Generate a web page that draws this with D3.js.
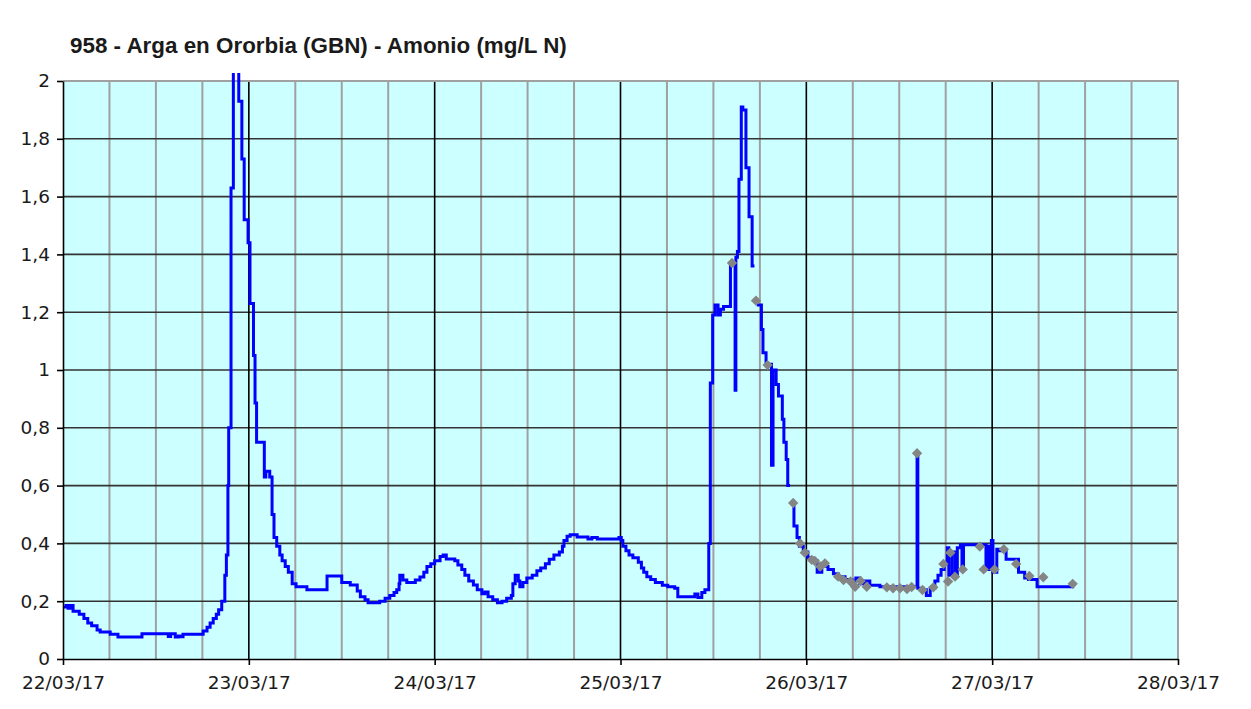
<!DOCTYPE html>
<html>
<head>
<meta charset="utf-8">
<script src="https://cdn.jsdelivr.net/npm/d3@7"></script>
<style>
  body { margin: 0; background: #fff; }
  svg { display: block; }
</style>
</head>
<body>
<div id="chart"></div>
<script>
// Amonio, hours counted from 22/03/17 00:00
var blueHours = [0, 0.4, 0.65, 1.0, 1.3, 2.1, 2.7, 3.2, 3.7, 4.4, 4.8, 6.1, 7.1, 10.2, 13.6, 13.9, 14.5, 14.9, 15.2, 15.5,
  18.1, 18.6, 19.0, 19.4, 19.8, 20.1, 20.5, 20.9, 21.1, 21.3, 21.4, 21.7, 22.0, 22.7, 23.1, 23.4, 23.9, 24.15, 24.6, 24.8,
  25.0, 26.0, 26.2, 26.7, 27.0, 27.25, 27.6, 28.0, 28.3, 28.7, 29.1, 29.6, 30.1, 31.5, 34.1, 36.0, 37.1, 38.0, 38.4, 39.0,
  39.4, 40.9, 41.6, 42.2, 42.75, 43.1, 43.4, 43.5, 43.9, 44.4, 45.5, 46.1, 46.6, 47.0, 47.5, 48.0, 48.7, 49.1, 49.5, 50.6,
  51.0, 51.5, 51.9, 52.4, 53.0, 53.5, 54.1, 54.5, 54.9, 55.5, 56.1, 56.7, 57.3, 57.9, 58.1, 58.4, 58.8, 59.0, 59.4, 59.9,
  60.6, 61.2, 61.7, 62.3, 62.8, 63.4, 64.1, 64.5, 64.7, 65.1, 65.5, 66.4, 67.8, 68.3, 69.0, 71.8, 72.1, 72.3, 72.7, 73.1,
  73.6, 74.3, 74.7, 75.0, 75.4, 75.9, 76.5, 77.4, 78.1, 79.0, 79.4, 81.6, 82.0, 82.5, 82.9, 83.4, 83.6, 83.9, 84.2, 84.6,
  84.9, 85.3, 86.2, 86.8, 86.9, 87.1, 87.3, 87.6, 87.8, 88.2, 88.6, 89.0, 89.3, 89.4, 89.6, 90.2, 90.4, 90.8, 91.5, 91.7,
  92.1, 92.4, 92.9, 93.1, 93.4, 93.6, 93.9, 94.0, 94.3, 94.4, 94.8, 95.1, 95.6, 96.2, 96.7, 97.4, 98.0, 98.8, 99.5, 100.1,
  101.0, 101.9, 102.4, 102.9, 103.6, 104.2, 105.5, 110.0, 110.3, 110.4, 111.1, 111.5, 112.0, 112.6, 113.0, 113.4, 113.8, 114.2,
  114.4, 114.8, 115.2, 115.5, 115.9, 116.1, 116.3, 118.2, 119.2, 119.5, 119.7, 119.9, 120.1, 120.6, 120.9, 121.8, 123.4, 124.2,
  124.7, 125.8, 130.4];
var blueValues = [0.18, 0.185, 0.176, 0.185, 0.165, 0.155, 0.14, 0.125, 0.115, 0.10, 0.093, 0.086, 0.076, 0.087, 0.078, 0.087, 0.076, 0.08, 0.077, 0.086,
  0.097, 0.11, 0.125, 0.14, 0.155, 0.17, 0.2, 0.29, 0.36, 0.6, 0.8, 1.63, 2.3, 1.93, 1.73, 1.52, 1.44, 1.23, 1.05, 0.886,
  0.75, 0.63, 0.65, 0.63, 0.5, 0.42, 0.39, 0.36, 0.34, 0.32, 0.30, 0.26, 0.25, 0.24, 0.287, 0.265, 0.256, 0.235, 0.215, 0.205,
  0.195, 0.2, 0.21, 0.22, 0.23, 0.24, 0.26, 0.29, 0.273, 0.265, 0.273, 0.284, 0.30, 0.32, 0.33, 0.34, 0.355, 0.36, 0.346, 0.34,
  0.325, 0.31, 0.29, 0.27, 0.256, 0.24, 0.226, 0.232, 0.215, 0.205, 0.195, 0.2, 0.21, 0.22, 0.26, 0.29, 0.27, 0.25, 0.265, 0.28,
  0.29, 0.305, 0.315, 0.33, 0.345, 0.36, 0.37, 0.39, 0.41, 0.425, 0.43, 0.422, 0.415, 0.42, 0.415, 0.42, 0.41, 0.39, 0.375, 0.36,
  0.35, 0.335, 0.315, 0.30, 0.285, 0.275, 0.265, 0.255, 0.25, 0.245, 0.215, 0.225, 0.213, 0.23, 0.24, 0.40, 0.955, 1.19, 1.225, 1.19,
  1.21, 1.22, 1.37, 0.93, 1.39, 1.41, 1.66, 1.91, 1.9, 1.70, 1.53, 1.36, 1.36, null, 1.225, 1.14, 1.06, 1.02, 0.67, 1.0,
  0.95, 0.91, 0.83, 0.75, 0.69, 0.6, 0.6, null, 0.54, 0.46, 0.42, 0.39, 0.37, 0.35, 0.34, 0.30, 0.32, 0.31, 0.295, 0.285,
  0.275, 0.27, 0.28, 0.26, 0.27, 0.255, 0.25, 0.25, 0.71, 0.245, 0.24, 0.22, 0.245, 0.27, 0.29, 0.31, 0.33, 0.385,
  0.29, 0.37, 0.29, 0.385, 0.395, 0.32, 0.395, 0.395, 0.31, 0.39, 0.31, 0.41, 0.30, 0.38, 0.375, 0.345, 0.30, 0.28,
  0.275, 0.25, 0.255];

// grey diamond points
var greyHours = [86.4, 89.5, 91.0, 94.3, 95.2, 95.8, 96.7, 97.1, 97.8, 98.4, 100.1, 100.8, 101.7, 102.3, 103.0, 103.8, 106.4, 107.2, 108.1, 109.0,
  109.6, 110.3, 111.0, 112.4, 113.7, 114.3, 114.6, 115.2, 116.2, 118.4, 118.9, 120.3, 121.5, 123.1, 124.8, 126.6, 130.4];
var greyValues = [1.37, 1.24, 1.017, 0.54, 0.40, 0.368, 0.343, 0.339, 0.32, 0.331, 0.285, 0.273, 0.268, 0.25, 0.27, 0.25, 0.248, 0.245, 0.245, 0.242,
  0.249, 0.712, 0.239, 0.248, 0.329, 0.268, 0.368, 0.285, 0.31, 0.389, 0.31, 0.31, 0.38, 0.329, 0.287, 0.283, 0.26];

var dayLabels = ["22/03/17", "23/03/17", "24/03/17", "25/03/17", "26/03/17", "27/03/17", "28/03/17"];
var yTicks = [0, 0.2, 0.4, 0.6, 0.8, 1, 1.2, 1.4, 1.6, 1.8, 2];
var yLabels = ["0", "0,2", "0,4", "0,6", "0,8", "1", "1,2", "1,4", "1,6", "1,8", "2"];

var W = 1251, H = 709;
var margin = {top: 81, right: 73, bottom: 50, left: 63},
    width = W - margin.left - margin.right,
    height = H - margin.top - margin.bottom;

var svg = d3.select("#chart").append("svg")
    .attr("width", W)
    .attr("height", H);

var g = svg.append("g")
    .attr("transform", "translate(" + margin.left + "," + margin.top + ")");

var x = d3.scaleLinear().domain([0, 144]).range([0, width]);
var y = d3.scaleLinear().domain([0, 2]).range([height, 0]);

// plot background
g.append("rect")
    .attr("width", width).attr("height", height)
    .attr("fill", "#ccffff");

// minor vertical grid every 6 h
var minorHours = d3.range(6, 144, 6).filter(function(h) { return h % 24 != 0; });
g.selectAll(".vminor").data(minorHours).enter().append("line")
    .attr("x1", function(d) { return x(d); }).attr("x2", function(d) { return x(d); })
    .attr("y1", 0).attr("y2", height)
    .attr("stroke", "#a0a0a0").attr("stroke-width", 2);

// horizontal grid
g.selectAll(".hgrid").data(yTicks.slice(1, -1)).enter().append("line")
    .attr("x1", 0).attr("x2", width)
    .attr("y1", function(d) { return y(d); }).attr("y2", function(d) { return y(d); })
    .attr("stroke", "#333").attr("stroke-width", 1.6);

// day lines
g.selectAll(".vday").data(d3.range(24, 144, 24)).enter().append("line")
    .attr("x1", function(d) { return x(d); }).attr("x2", function(d) { return x(d); })
    .attr("y1", 0).attr("y2", height)
    .attr("stroke", "#000").attr("stroke-width", 1.6);

// top and right border
g.append("path")
    .attr("d", "M0," + y(2) + "H" + width + "V" + height)
    .attr("fill", "none").attr("stroke", "#a0a0a0").attr("stroke-width", 2);

// clip so the first peak just pokes above the plot
svg.append("clipPath").attr("id", "clip")
  .append("rect").attr("x", 0).attr("y", -8).attr("width", width).attr("height", height + 8);

var pts = blueHours.map(function(h, i) { return {h: h, v: blueValues[i]}; });
var line = d3.line()
    .defined(function(d) { return d.v != null; })
    .x(function(d) { return x(d.h); })
    .y(function(d) { return y(d.v); })
    .curve(d3.curveStepAfter);

g.append("path")
    .datum(pts)
    .attr("clip-path", "url(#clip)")
    .attr("fill", "none")
    .attr("stroke", "#0000ff")
    .attr("stroke-width", 3)
    .attr("d", line);

// grey diamonds
var gpts = greyHours.map(function(h, i) { return {h: h, v: greyValues[i]}; });
g.selectAll(".dia").data(gpts).enter().append("path")
    .attr("transform", function(d) { return "translate(" + x(d.h) + "," + y(d.v) + ")"; })
    .attr("d", "M0,-5.2L5.2,0L0,5.2L-5.2,0Z")
    .attr("fill", "#858585");

// axes
var xAxis = g.append("g")
    .attr("transform", "translate(0," + height + ")")
    .call(d3.axisBottom(x)
        .tickValues(d3.range(0, 145, 24))
        .tickFormat(function(d, i) { return dayLabels[i]; })
        .tickSize(6).tickSizeOuter(0));
xAxis.select(".domain").attr("stroke", "#000").attr("stroke-width", 1.6);
xAxis.selectAll(".tick line").attr("stroke", "#000").attr("stroke-width", 1.6);
xAxis.selectAll("text")
    .attr("y", 17)
    .attr("font-family", "DejaVu Sans, Verdana, sans-serif")
    .attr("font-size", "18.5px")
    .attr("fill", "#1a1a1a");

var yAxis = g.append("g")
    .call(d3.axisLeft(y)
        .tickValues(yTicks)
        .tickFormat(function(d, i) { return yLabels[i]; })
        .tickSize(6).tickSizeOuter(0));
yAxis.select(".domain").attr("stroke", "#000").attr("stroke-width", 1.6);
yAxis.selectAll(".tick line").attr("stroke", "#000").attr("stroke-width", 1.6);
yAxis.selectAll("text")
    .attr("x", -13)
    .attr("font-family", "DejaVu Sans, Verdana, sans-serif")
    .attr("font-size", "18.5px")
    .attr("fill", "#1a1a1a");

// title
svg.append("text")
    .attr("x", 70)
    .attr("y", 53)
    .attr("font-family", "Liberation Sans, Arial, sans-serif")
    .attr("font-weight", "bold")
    .attr("font-size", "22.4px")
    .attr("fill", "#1a1a1a")
    .text("958 - Arga en Ororbia (GBN) - Amonio (mg/L N)");
</script>
</body>
</html>
